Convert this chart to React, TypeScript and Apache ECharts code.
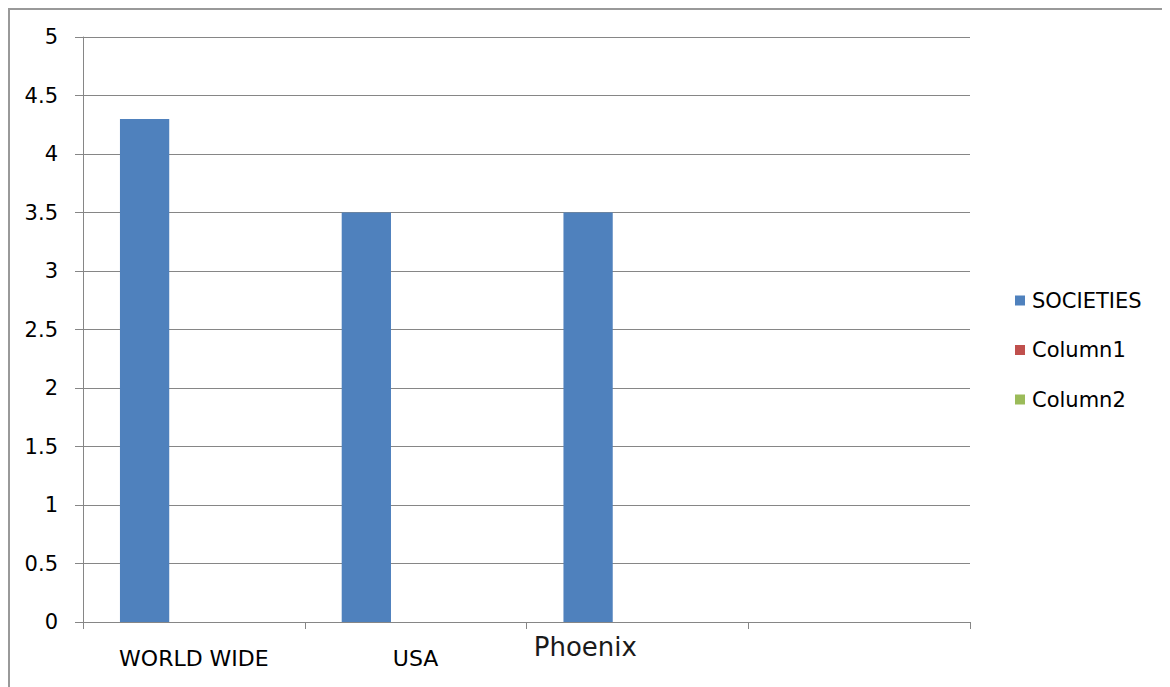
import React, { useEffect, useRef } from "react";
import * as echarts from "echarts";

const categories = ["WORLD WIDE", "USA", "Phoenix", ""];
const societies = [4.3, 3.5, 3.5, null];
const column1: (number | null)[] = [null, null, null, null];
const column2: (number | null)[] = [null, null, null, null];
const seriesNames = ["SOCIETIES", "Column1", "Column2"];
const colors = ["#4F81BD", "#C0504D", "#9BBB59"];

const FONT = "DejaVu Sans";

export default function App() {
  const ref = useRef<HTMLDivElement>(null);
  useEffect(() => {
    if (!ref.current) return;
    const chart = echarts.init(ref.current, undefined, { renderer: "svg" });
    chart.setOption({
      animation: false,
      color: colors,
      grid: { left: 73, top: 27, right: 200, bottom: 65 },
      legend: {
        orient: "vertical",
        left: 1000,
        top: 275,
        itemWidth: 10,
        itemHeight: 10,
        itemGap: 28.5,
        icon: "rect",
        data: seriesNames,
        textStyle: { fontFamily: FONT, fontSize: 21, color: "#000", lineHeight: 20, padding: [0, 0, 0, 2] },
      },
      xAxis: {
        type: "category",
        data: categories,
        axisLine: { lineStyle: { color: "#868686", width: 1 } },
        axisTick: { show: true, length: 7, lineStyle: { color: "#868686" } },
        axisLabel: {
          margin: 12,
          interval: 0,
          formatter: (v: string) => (v === "Phoenix" ? `{p|${v}}` : `{a|${v}}`),
          rich: {
            a: { fontFamily: FONT, fontSize: 22, color: "#000", padding: [13, 0, 0, 0] },
            p: { fontFamily: FONT, fontSize: 26, color: "#1a1a1a", padding: [0, 104, 0, 0] },
          },
        },
      },
      yAxis: {
        type: "value",
        min: 0,
        max: 5,
        interval: 0.5,
        axisLine: { show: true, lineStyle: { color: "#868686", width: 1 } },
        axisTick: { show: true, length: 8, lineStyle: { color: "#868686" } },
        splitLine: { lineStyle: { color: "#868686", width: 1 } },
        axisLabel: { margin: 25, fontFamily: FONT, fontSize: 21, color: "#000" },
      },
      series: [
        { name: seriesNames[0], type: "bar", data: societies, barGap: "0%", barCategoryGap: "33.33%" },
        { name: seriesNames[1], type: "bar", data: column1, barGap: "0%", barCategoryGap: "33.33%" },
        { name: seriesNames[2], type: "bar", data: column2, barGap: "0%", barCategoryGap: "33.33%" },
      ],
    });
    return () => chart.dispose();
  }, []);
  return (
    <div style={{ width: 1162, height: 679, boxSizing: "border-box", borderTop: "2px solid #999", borderLeft: "2px solid #999", background: "#fff" }}>
      <div ref={ref} style={{ width: 1160, height: 677 }} />
    </div>
  );
}
